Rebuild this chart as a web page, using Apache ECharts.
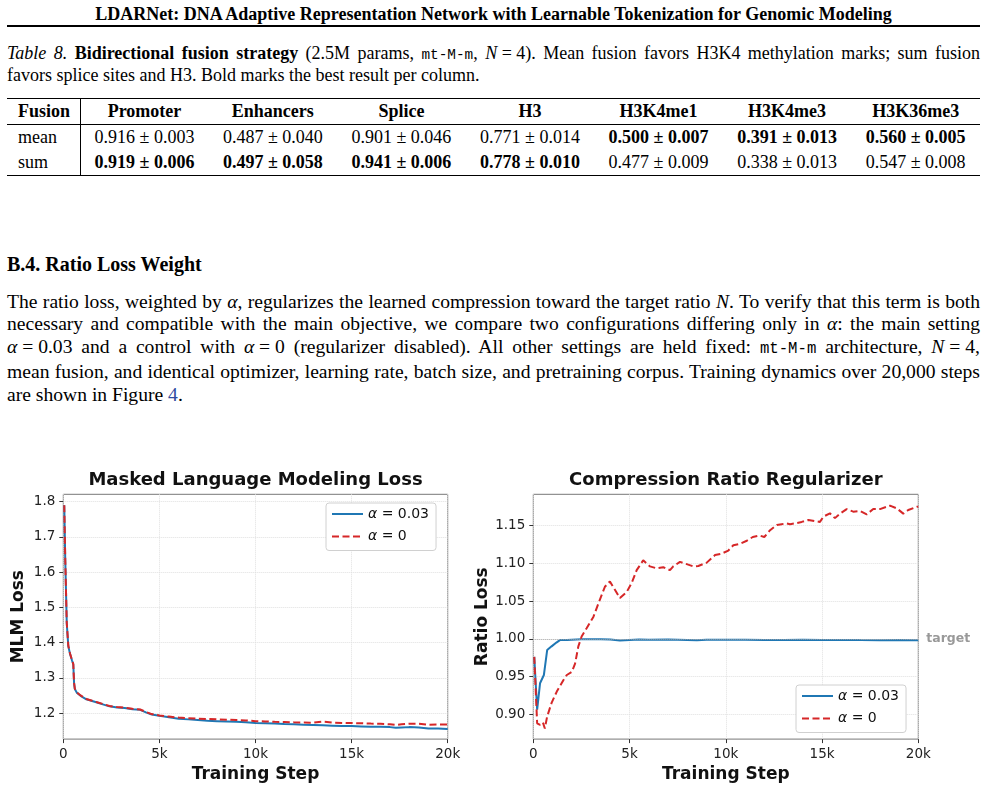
<!DOCTYPE html>
<html>
<head>
<meta charset="utf-8">
<script src="https://cdn.jsdelivr.net/npm/echarts@6/dist/echarts.min.js"></script>
<style>
  html, body { margin: 0; padding: 0; background: #fff; }
  body { width: 987px; height: 788px; position: relative; overflow: hidden;
         font-family: "Liberation Serif", "Times New Roman", serif; color: #000; }
  .abs { position: absolute; }
  .jl { text-align: justify; text-align-last: justify; white-space: nowrap; }
  .tt { font-family: "Liberation Mono", monospace; font-size: 0.8em; }
  .m { display: inline-block; white-space: nowrap; }
  #hdr { top: 3px; left: 0; width: 987px; text-align: center; font-weight: bold; font-size: 18px; line-height: 22px; }
  #hdrRule { top: 25px; left: 7px; width: 973px; height: 2px; background: #000; }
  #cap { top: 42.5px; left: 7px; width: 973px; font-size: 18px; line-height: 20.5px; }
  #tbl { top: 98px; left: 7px; width: 973px; border-collapse: collapse; table-layout: fixed; font-size: 18px; }
  #tbl td, #tbl th { padding: 0 4px; text-align: center; white-space: nowrap; }
  #tbl td.f, #tbl th.f { text-align: left; padding-left: 11px; border-right: 1px solid #000; }
  #tbl thead tr { height: 26px; }
  #tbl tbody tr { height: 25.5px; }
  #sec { top: 252px; left: 7px; font-weight: bold; font-size: 20px; line-height: 24px; }
  #para { top: 290.5px; left: 7px; width: 973px; font-size: 19.6px; line-height: 22.8px; }
  .lnk { color: #2f4aa0; }
  #chart { position: absolute; left: 0; top: 455px; width: 987px; height: 333px; }
</style>
</head>
<body>
<div id="hdr" class="abs">LDARNet: DNA Adaptive Representation Network with Learnable Tokenization for Genomic Modeling</div>
<div id="hdrRule" class="abs"></div>

<div id="cap" class="abs">
  <div class="jl"><i>Table 8.</i> <b>Bidirectional fusion strategy</b> (2.5M params, <span class="tt">mt-M-m</span>, <span class="m"><i>N</i> = 4</span>). Mean fusion favors H3K4 methylation marks; sum fusion</div>
  <div>favors splice sites and H3. Bold marks the best result per column.</div>
</div>

<table id="tbl" class="abs">
  <colgroup><col style="width:73px"><col><col><col><col><col><col><col></colgroup>
  <thead style="border-top:1.6px solid #000; border-bottom:1px solid #000;">
    <tr><th class="f">Fusion</th><th>Promoter</th><th>Enhancers</th><th>Splice</th><th>H3</th><th>H3K4me1</th><th>H3K4me3</th><th>H3K36me3</th></tr>
  </thead>
  <tbody style="border-bottom:1.6px solid #000;">
    <tr><td class="f">mean</td><td>0.916 ± 0.003</td><td>0.487 ± 0.040</td><td>0.901 ± 0.046</td><td>0.771 ± 0.014</td><td><b>0.500 ± 0.007</b></td><td><b>0.391 ± 0.013</b></td><td><b>0.560 ± 0.005</b></td></tr>
    <tr><td class="f">sum</td><td><b>0.919 ± 0.006</b></td><td><b>0.497 ± 0.058</b></td><td><b>0.941 ± 0.006</b></td><td><b>0.778 ± 0.010</b></td><td>0.477 ± 0.009</td><td>0.338 ± 0.013</td><td>0.547 ± 0.008</td></tr>
  </tbody>
</table>

<div id="sec" class="abs">B.4. Ratio Loss Weight</div>
<div id="para" class="abs">
  <div class="jl">The ratio loss, weighted by <i>α</i>, regularizes the learned compression toward the target ratio <i>N</i>. To verify that this term is both</div>
  <div class="jl">necessary and compatible with the main objective, we compare two configurations differing only in <i>α</i>: the main setting</div>
  <div class="jl"><span class="m"><i>α</i> = 0.03</span> and a control with <span class="m"><i>α</i> = 0</span> (regularizer disabled). All other settings are held fixed: <span class="tt">mt-M-m</span> architecture, <span class="m"><i>N</i> = 4</span>,</div>
  <div class="jl">mean fusion, and identical optimizer, learning rate, batch size, and pretraining corpus. Training dynamics over 20,000 steps</div>
  <div>are shown in Figure <span class="lnk">4</span>.</div>
</div>

<div id="chart"></div>

<script>
// 左图：MLM loss
var mlmSteps = [50, 100, 180, 260, 350, 450, 520, 560, 600, 700, 900, 1200, 1500, 1800, 2100, 2400, 2800, 3200, 3600, 4000, 4300, 4600, 5000,
  5500, 6000, 6500, 7000, 7500, 8000, 8500, 9000, 9500, 10000, 10500, 11000, 11500, 12000, 12500, 13000, 13500, 14000, 14500, 15000,
  15500, 16000, 16500, 17000, 17300, 17600, 18000, 18500, 19000, 19500, 20000];
var mlmAlpha003 = [1.790, 1.640, 1.455, 1.390, 1.368, 1.350, 1.338, 1.285, 1.268, 1.258, 1.249, 1.239, 1.234, 1.229, 1.224, 1.219, 1.216, 1.214, 1.211, 1.209, 1.202, 1.196, 1.192,
  1.188, 1.184, 1.182, 1.180, 1.178, 1.177, 1.176, 1.175, 1.1735, 1.172, 1.171, 1.170, 1.169, 1.1685, 1.167, 1.166, 1.165, 1.164, 1.163, 1.163,
  1.162, 1.161, 1.161, 1.160, 1.158, 1.159, 1.160, 1.159, 1.156, 1.156, 1.155];
var mlmAlpha0 = [1.790, 1.640, 1.456, 1.391, 1.369, 1.351, 1.339, 1.286, 1.269, 1.259, 1.250, 1.240, 1.235, 1.230, 1.225, 1.220, 1.217, 1.215, 1.212, 1.210, 1.203, 1.197, 1.193,
  1.190, 1.187, 1.1855, 1.184, 1.183, 1.182, 1.181, 1.180, 1.179, 1.177, 1.176, 1.175, 1.1745, 1.1735, 1.173, 1.1725, 1.1755, 1.173, 1.172, 1.1715,
  1.171, 1.170, 1.1695, 1.168, 1.166, 1.168, 1.1695, 1.1697, 1.167, 1.1675, 1.1677];

// 右图：ratio loss
var ratioStepsA = [50, 200, 350, 550, 720, 950, 1200, 1400, 1750, 2000, 2500, 3000, 3500, 4000, 4500, 5000, 5500, 6000, 7000, 8000, 8500,
  9000, 10000, 11000, 12000, 13000, 14000, 15000, 16000, 17000, 18000, 19000, 20000];
var ratioAlpha003 = [0.976, 0.906, 0.941, 0.952, 0.985, 0.990, 0.995, 0.9985, 0.9985, 0.9988, 0.9993, 0.9995, 0.9993, 0.999, 0.9977, 0.9985, 0.999, 0.9988, 0.999, 0.9985, 0.9982,
  0.9988, 0.9987, 0.9986, 0.9983, 0.9985, 0.9987, 0.9984, 0.9985, 0.9983, 0.9982, 0.9985, 0.9982];
var ratioStepsB = [50, 200, 350, 500, 600, 720, 950, 1220, 1560, 1740, 2000, 2170, 2340, 2510, 2770, 3120, 3460, 3720, 3980, 4240, 4500,
  4850, 5110, 5370, 5710, 6060, 6410, 6750, 7100, 7270, 7620, 7970, 8310, 8570, 9010, 9440, 9790, 10130, 10390, 10740, 11090, 11400,
  11750, 12000, 12300, 12650, 12900, 13160, 13340, 13600, 13940, 14290, 14630, 14890, 15070, 15410, 15670, 15930, 16280, 16620, 16970,
  17320, 17660, 18010, 18530, 18880, 19220, 19480, 19920, 20000];
var ratioAlpha0 = [0.976, 0.888, 0.886, 0.889, 0.881, 0.897, 0.915, 0.930, 0.945, 0.952, 0.956, 0.967, 0.990, 1.003, 1.014, 1.029, 1.052, 1.069, 1.076, 1.065, 1.054,
  1.062, 1.074, 1.091, 1.104, 1.096, 1.0935, 1.095, 1.091, 1.096, 1.102, 1.099, 1.096, 1.0966, 1.101, 1.111, 1.113, 1.117, 1.124, 1.126, 1.130, 1.135,
  1.137, 1.135, 1.144, 1.151, 1.152, 1.153, 1.152, 1.153, 1.155, 1.1576, 1.156, 1.155, 1.162, 1.1664, 1.160, 1.166, 1.172, 1.1686, 1.1695,
  1.165, 1.172, 1.172, 1.1765, 1.173, 1.166, 1.1708, 1.175, 1.175];
var targetRatio = 1.0;

var xTicks = [0, 5000, 10000, 15000, 20000];
var mlmTicks = [1.2, 1.3, 1.4, 1.5, 1.6, 1.7, 1.8];
var ratioTicks = [0.90, 0.95, 1.00, 1.05, 1.10, 1.15];
var seriesNames = ['α = 0.03', 'α = 0'];

var FONT = 'DejaVu Sans';
var BLUE = '#1f77b4';
var RED = '#d62728';

function zip(xs, ys) {
  return xs.map(function (x, i) { return [x, ys[i]]; });
}

function makeX(idx) {
  return {
    type: 'value', gridIndex: idx, min: 0, max: 20000, interval: 5000,
    name: 'Training Step', nameLocation: 'middle', nameGap: 24,
    nameTextStyle: { fontFamily: FONT, fontWeight: 'bold', fontSize: 17, color: '#111' },
    axisLine: { show: false },
    axisTick: { show: true, length: 4, lineStyle: { color: '#333' } },
    axisLabel: {
      fontFamily: FONT, fontSize: 13.5, color: '#222', margin: 8,
      formatter: function (v) { return v === 0 ? '0' : (v / 1000) + 'k'; }
    },
    splitLine: { show: true, lineStyle: { type: 'dotted', color: '#e0e0e0', width: 1 } }
  };
}

function makeY(idx, min, max, ticks, digits, name, gap) {
  return {
    type: 'value', gridIndex: idx, min: min, max: max,
    name: name, nameLocation: 'middle', nameGap: gap,
    nameTextStyle: { fontFamily: FONT, fontWeight: 'bold', fontSize: 17, color: '#111' },
    axisLine: { show: false },
    axisTick: { show: true, length: 4, lineStyle: { color: '#333' }, customValues: ticks },
    axisLabel: {
      fontFamily: FONT, fontSize: 13.5, color: '#222', margin: 8, customValues: ticks,
      formatter: function (v) { return v.toFixed(digits); }
    },
    splitLine: { show: true, lineStyle: { type: 'dotted', color: '#e0e0e0', width: 1 } }
  };
}

function makeLegend(left, top) {
  return {
    data: seriesNames, orient: 'vertical', left: left, top: top,
    itemWidth: 31, itemHeight: 14, itemGap: 6.5,
    padding: [3, 7, 6, 5],
    backgroundColor: '#fff', borderColor: '#d0d0d0', borderWidth: 1, borderRadius: 3,
    selectedMode: false,
    itemStyle: { opacity: 0 },
    formatter: function (n) { return n.replace('α', '{i|α}'); },
    textStyle: {
      fontFamily: FONT, fontSize: 14, color: '#111', lineHeight: 16,
      rich: { i: { fontFamily: FONT, fontSize: 14, fontStyle: 'italic', color: '#111' } }
    }
  };
}

var chart = echarts.init(document.getElementById('chart'));
chart.setOption({
  animation: false,
  title: [
    { text: 'Masked Language Modeling Loss', left: 255.5, top: 16, textAlign: 'center', padding: 0,
      textStyle: { fontFamily: FONT, fontWeight: 'bold', fontSize: 18, color: '#111' } },
    { text: 'Compression Ratio Regularizer', left: 725.8, top: 16, textAlign: 'center', padding: 0,
      textStyle: { fontFamily: FONT, fontWeight: 'bold', fontSize: 18, color: '#111' } }
  ],
  legend: [makeLegend(326, 48), makeLegend(796, 230)],
  grid: [
    { left: 63.3, top: 39.3, width: 384.4, height: 245, show: true, borderColor: '#777', borderWidth: 1 },
    { left: 533.3, top: 39.3, width: 385, height: 245, show: true, borderColor: '#777', borderWidth: 1 }
  ],
  xAxis: [makeX(0), makeX(1)],
  yAxis: [
    makeY(0, 1.126, 1.821, mlmTicks, 1, 'MLM Loss', 36),
    makeY(1, 0.867, 1.1916, ratioTicks, 2, 'Ratio Loss', 42)
  ],
  series: [
    { name: seriesNames[0], type: 'line', xAxisIndex: 0, yAxisIndex: 0, symbol: 'none',
      data: zip(mlmSteps, mlmAlpha003), lineStyle: { color: BLUE, width: 2 }, itemStyle: { color: BLUE } },
    { name: seriesNames[1], type: 'line', xAxisIndex: 0, yAxisIndex: 0, symbol: 'none',
      data: zip(mlmSteps, mlmAlpha0), lineStyle: { color: RED, width: 2, type: [7, 3.5] }, itemStyle: { color: RED } },
    { name: seriesNames[0], type: 'line', xAxisIndex: 1, yAxisIndex: 1, symbol: 'none',
      data: zip(ratioStepsA, ratioAlpha003), lineStyle: { color: BLUE, width: 2 }, itemStyle: { color: BLUE },
      markLine: {
        silent: true, symbol: 'none',
        lineStyle: { type: 'dotted', color: '#aaa', width: 1 },
        label: { show: true, position: 'end', distance: 8, formatter: 'target',
                 fontFamily: FONT, fontWeight: 'bold', fontSize: 12.5, color: '#999' },
        data: [{ yAxis: targetRatio }]
      } },
    { name: seriesNames[1], type: 'line', xAxisIndex: 1, yAxisIndex: 1, symbol: 'none',
      data: zip(ratioStepsB, ratioAlpha0), lineStyle: { color: RED, width: 2, type: [7, 3.5] }, itemStyle: { color: RED } }
  ]
});
</script>
</body>
</html>
